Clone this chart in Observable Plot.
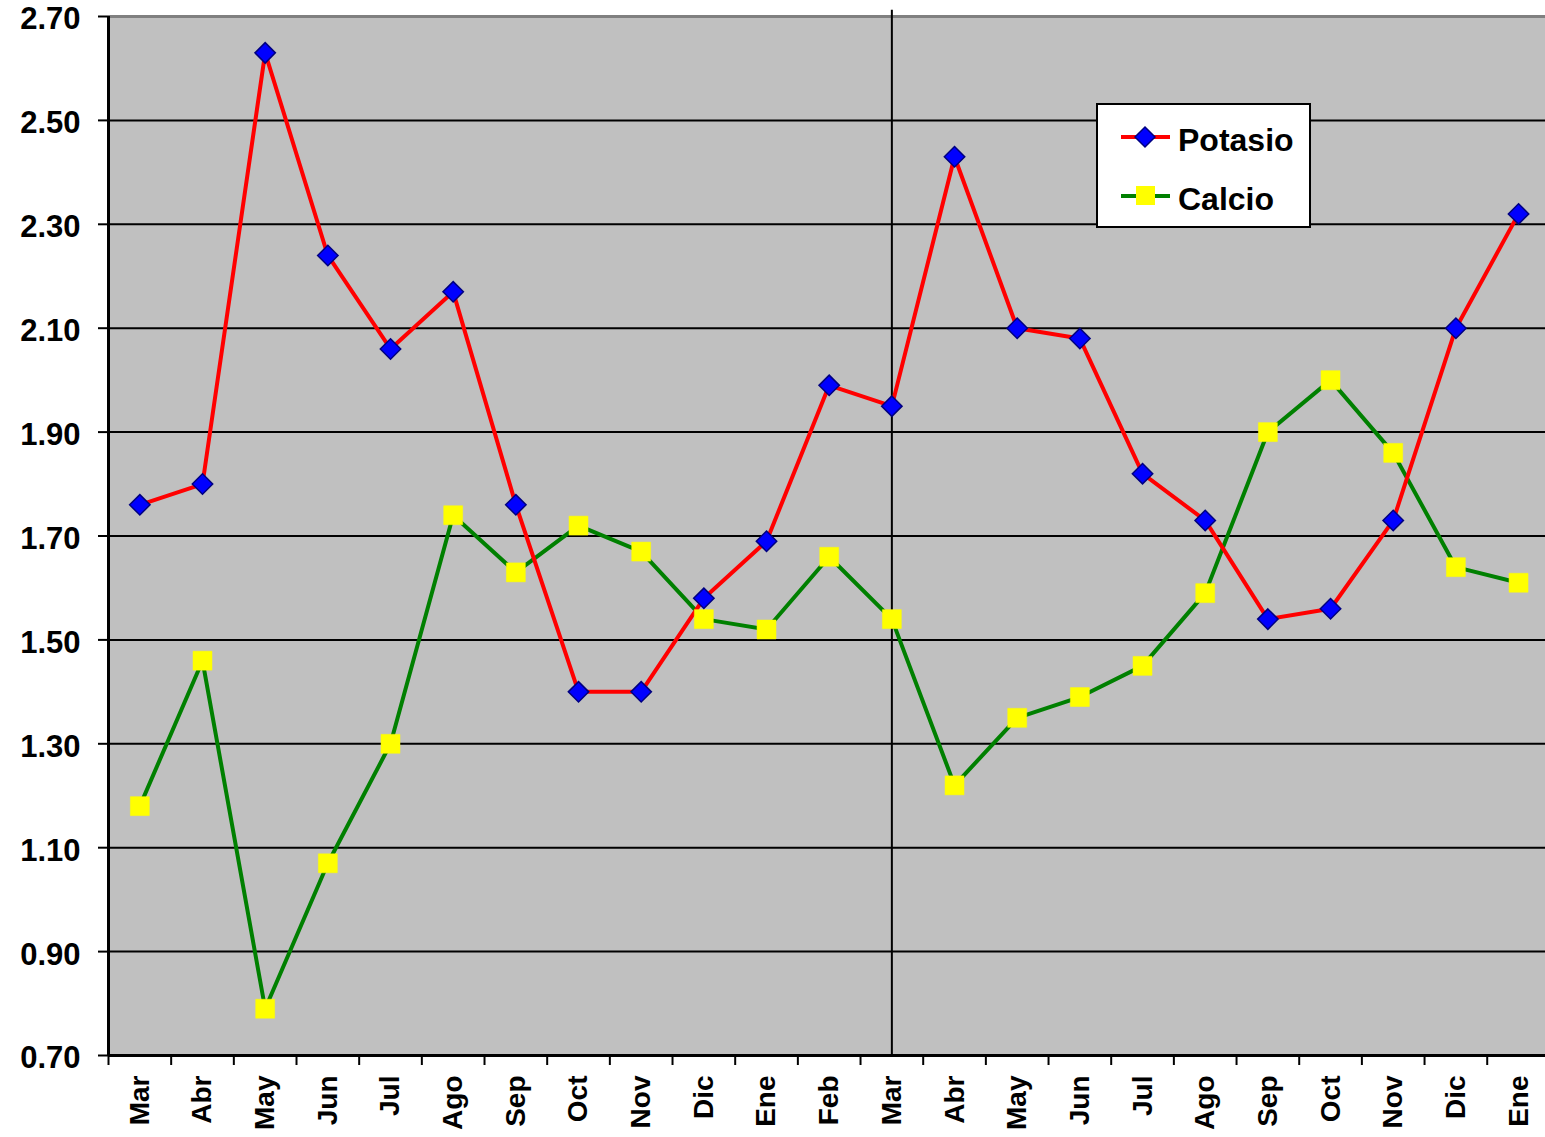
<!DOCTYPE html>
<html>
<head>
<meta charset="utf-8">
<script src="https://cdn.jsdelivr.net/npm/d3@7"></script>
<script src="https://cdn.jsdelivr.net/npm/@observablehq/plot@0.6"></script>
<style>
  html, body { margin: 0; padding: 0; background: white; overflow: hidden; }
  svg { display: block; }
</style>
</head>
<body>
<div id="chart"></div>
<script>
const months = ["Mar","Abr","May","Jun","Jul","Ago","Sep","Oct","Nov","Dic","Ene","Feb","Mar","Abr","May","Jun","Jul","Ago","Sep","Oct","Nov","Dic","Ene"];
const potasio = [1.76,1.80,2.63,2.24,2.06,2.17,1.76,1.40,1.40,1.58,1.69,1.99,1.95,2.43,2.10,2.08,1.82,1.73,1.54,1.56,1.73,2.10,2.32];
const calcio  = [1.18,1.46,0.79,1.07,1.30,1.74,1.63,1.72,1.67,1.54,1.52,1.66,1.54,1.22,1.35,1.39,1.45,1.59,1.90,2.00,1.86,1.64,1.61];
const yTicks = [0.70,0.90,1.10,1.30,1.50,1.70,1.90,2.10,2.30,2.50,2.70];
const seriesNames = ["Potasio","Calcio"];

const idx = d3.range(months.length);
const data = idx.map(i => ({i, month: months[i], potasio: potasio[i], calcio: calcio[i]}));
const edges = d3.range(months.length + 1).map(i => i - 0.5);
const font = "'Liberation Sans', Arial, sans-serif";

const chart = Plot.plot({
  width: 1545,
  height: 1137,
  marginLeft: 108,
  marginRight: 0,
  marginTop: 16,
  marginBottom: 82,
  x: {type: "linear", domain: [-0.5, months.length - 0.57]},
  y: {domain: [0.70, 2.70]},
  style: {background: "white", fontFamily: font, color: "black"},
  marks: [
    Plot.frame({fill: "#C0C0C0", stroke: null}),
    Plot.ruleY(yTicks.slice(1, -1), {stroke: "black", strokeWidth: 2}),
    Plot.ruleY([2.70], {stroke: "#808080", strokeWidth: 3}),
    Plot.ruleX([12], {stroke: "black", strokeWidth: 2, y1: 0.70, y2: 2.712}),
    Plot.line(data, {x: "i", y: "calcio", stroke: "#008000", strokeWidth: 4}),
    Plot.line(data, {x: "i", y: "potasio", stroke: "#FF0000", strokeWidth: 4}),
    Plot.dot(data, {x: "i", y: "calcio", symbol: "square", r: 10.7, fill: "#FFFF00", stroke: "#FFFF00", strokeWidth: 0.5}),
    Plot.dot(data, {x: "i", y: "potasio", symbol: "diamond2", r: 9.2, fill: "#0000FF", stroke: "#000080", strokeWidth: 1.5}),
    Plot.axisY({ticks: yTicks, tickFormat: d3.format(".2f"), tickSize: 10, tickPadding: 18, fontSize: 31, fontWeight: "bold", label: null, strokeWidth: 2, text: null}),
    Plot.axisY({ticks: yTicks, tickFormat: d3.format(".2f"), tickSize: 0, tickPadding: 28, fontSize: 31, fontWeight: "bold", label: null, dy: 3}),
    Plot.axisX({ticks: edges, tickFormat: () => "", tickSize: 10, label: null, strokeWidth: 2}),
    Plot.axisX({ticks: idx, tickFormat: i => months[i], tickSize: 0, tickPadding: 20, tickRotate: -90, fontSize: 28, fontWeight: "bold", label: null}),
    Plot.ruleX([-0.5], {stroke: "black", strokeWidth: 3}),
    Plot.ruleY([0.70], {stroke: "black", strokeWidth: 3})
  ]
});

document.getElementById("chart").appendChild(chart);

// Legend box inside the plot area
const svg = d3.select(chart);
const lg = svg.append("g").attr("font-family", font).attr("text-anchor", "start");
lg.append("rect").attr("x", 1097).attr("y", 104).attr("width", 213).attr("height", 123)
  .attr("fill", "white").attr("stroke", "black").attr("stroke-width", 2);
const rows = [
  {name: seriesNames[0], y: 137, stroke: "#FF0000", sym: "diamond"},
  {name: seriesNames[1], y: 196, stroke: "#008000", sym: "square"}
];
rows.forEach(r => {
  lg.append("line").attr("x1", 1121).attr("x2", 1170).attr("y1", r.y).attr("y2", r.y)
    .attr("stroke", r.stroke).attr("stroke-width", 4);
  if (r.sym === "diamond") {
    lg.append("path").attr("d", `M${1145},${r.y - 10}L${1155},${r.y}L${1145},${r.y + 10}L${1135},${r.y}Z`)
      .attr("fill", "#0000FF").attr("stroke", "#000080").attr("stroke-width", 1.5);
  } else {
    lg.append("rect").attr("x", 1136).attr("y", r.y - 10).attr("width", 19).attr("height", 19).attr("fill", "#FFFF00");
  }
  lg.append("text").attr("x", 1178).attr("y", r.y + 2).attr("dy", "0.36em")
    .attr("font-size", 32).attr("font-weight", "bold").attr("fill", "black").text(r.name);
});
</script>
</body>
</html>
